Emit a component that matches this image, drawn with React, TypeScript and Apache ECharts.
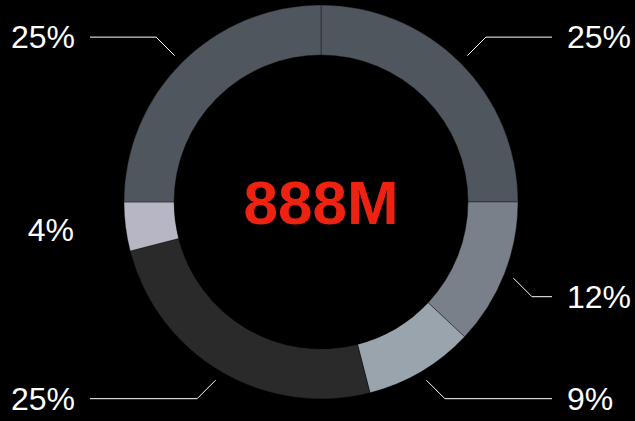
import React, { useEffect, useRef } from 'react';
import * as echarts from 'echarts';

const categories = ['Segment A', 'Segment B', 'Segment C', 'Segment D', 'Segment E', 'Segment F'];
const values = [25, 12, 9, 25, 4, 25];
const showLine = [true, true, true, true, false, true];
const palette = ['#50565d', '#7a808a', '#9aa4ad', '#2a2a2a', '#b6b6c4', '#50565d'];
const centerLabel = '888M';

const CX = 321;
const CY = 202;
const R0 = 147;
const R1 = 197;
const FONT = 'Liberation Sans, Arial, Helvetica, sans-serif';

export default function App() {
  const ref = useRef<HTMLDivElement>(null);

  useEffect(() => {
    if (!ref.current) return;
    const chart = echarts.init(ref.current, undefined, { renderer: 'svg' });
    const total = values.reduce((a, b) => a + b, 0);

    const data = values.map((v, i) => ({
      name: categories[i],
      value: v,
      itemStyle: { color: palette[i] },
      labelLine: { show: showLine[i] },
    }));

    chart.setOption({
      animation: false,
      backgroundColor: '#000000',
      graphic: [
        {
          type: 'text',
          x: CX,
          y: CY,
          style: {
            text: centerLabel,
            fill: '#ee2211',
            font: `bold 62px ${FONT}`,
            align: 'center',
            verticalAlign: 'middle',
          },
        },
      ],
      series: [
        {
          type: 'pie',
          center: [CX, CY],
          radius: [R0, R1],
          startAngle: 90,
          clockwise: true,
          avoidLabelOverlap: false,
          silent: true,
          itemStyle: { borderColor: 'rgba(0,0,0,0.35)', borderWidth: 1 },
          label: {
            show: true,
            position: 'outside',
            color: '#ffffff',
            fontSize: 32,
            fontFamily: FONT,
            formatter: (p: any) => `${Math.round(p.percent)}%`,
          },
          labelLine: {
            show: true,
            lineStyle: { color: '#ffffff', width: 1 },
          },
          labelLayout: (params: any) => {
            const i = params.dataIndex;
            let cum = 0;
            for (let k = 0; k < i; k++) cum += values[k];
            const mid = ((cum + values[i] / 2) / total) * Math.PI * 2;
            const dx = Math.sin(mid);
            const dy = -Math.cos(mid);
            const sx = dx < 0 ? -1 : 1;
            const sy = dy < 0 ? -1 : 1;
            const x1 = CX + 207 * dx;
            const y1 = CY + 207 * dy;
            const align = sx < 0 ? 'right' : 'left';
            if (!showLine[i]) {
              return { x: CX + sx * 247, y: y1 + 2, align, verticalAlign: 'middle' };
            }
            const x2 = x1 + sx * 18.5;
            const y2 = y1 + sy * 18.5;
            const x3 = CX + sx * 231;
            return {
              x: CX + sx * 246,
              y: y2,
              align,
              verticalAlign: 'middle',
              labelLinePoints: [
                [x1, y1],
                [x2, y2],
                [x3, y2],
              ],
            };
          },
          data,
        },
      ],
    });

    return () => chart.dispose();
  }, []);

  return (
    <div
      ref={ref}
      style={{ position: 'absolute', left: 0, top: 0, width: 635, height: 421, background: '#000' }}
    />
  );
}
